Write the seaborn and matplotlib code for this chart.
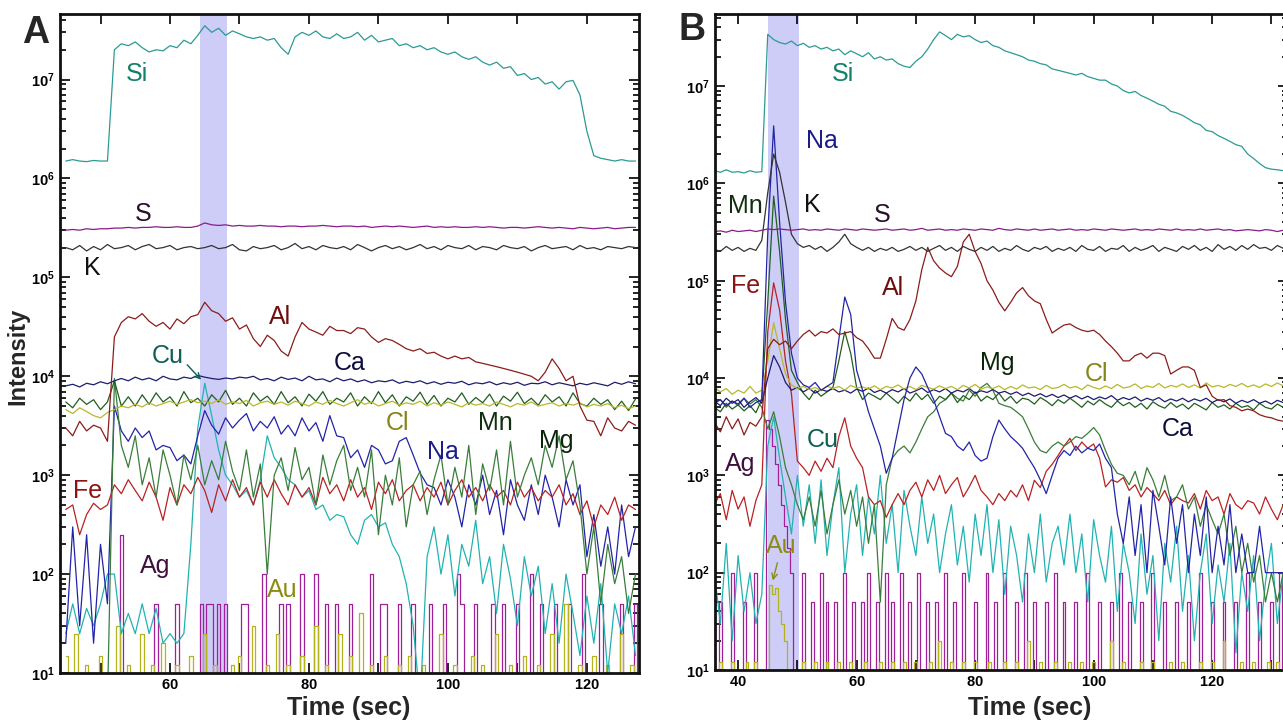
import numpy as np
import matplotlib
matplotlib.use("Agg")
import matplotlib.pyplot as plt
import seaborn as sns
from matplotlib.ticker import FixedLocator, FuncFormatter, NullFormatter

# ---------------- panel A: t = 45 .. 127 s (1 s steps) ----------------
t0_a = 45
si_a = [1.5, 1.55, 1.5, 1.48, 1.52, 1.5, 1.5, 20, 23, 22,
        24, 21, 19, 20, 19.5, 22, 21, 25, 23, 28,
        35, 30, 33, 28, 31, 29, 27, 26, 27, 25,
        26, 21, 18, 27, 30, 28, 31, 27, 26, 29,
        26, 27, 30, 25, 28, 24, 25, 26, 22, 23,
        21, 22, 20, 21, 19, 18, 19, 17, 16, 17,
        15, 14, 15, 13, 13.5, 11, 11.5, 10, 10.5, 9,
        9.5, 8, 9.5, 9.8, 7, 3, 1.7, 1.6, 1.55, 1.5,
        1.55, 1.5, 1.5]                                   # x1e6
s_a = [3.0, 3.05, 3.0, 3.1, 3.05, 3.1, 3.1, 3.15, 3.15, 3.2,
       3.15, 3.2, 3.2, 3.25, 3.2, 3.2, 3.25, 3.2, 3.2, 3.3,
       3.55, 3.4, 3.35, 3.4, 3.3, 3.35, 3.3, 3.3, 3.35, 3.3,
       3.3, 3.25, 3.3, 3.3, 3.25, 3.3, 3.3, 3.35, 3.3, 3.25,
       3.3, 3.3, 3.25, 3.3, 3.2, 3.25, 3.3, 3.25, 3.3, 3.25,
       3.2, 3.25, 3.3, 3.2, 3.25, 3.2, 3.25, 3.2, 3.2, 3.25,
       3.2, 3.25, 3.2, 3.15, 3.2, 3.2, 3.15, 3.2, 3.25, 3.2,
       3.15, 3.2, 3.15, 3.1, 3.2, 3.15, 3.1, 3.15, 3.2, 3.1,
       3.15, 3.2, 3.2]                                    # x1e5
k_a = [2.0, 1.9, 2.1, 1.85, 2.05, 1.9, 2.15, 1.95, 2.0, 2.1,
       1.9, 2.05, 2.15, 1.95, 2.0, 2.1, 1.9, 2.0, 2.05, 1.95,
       2.0, 2.1, 1.95, 2.0, 2.15, 1.9, 1.85, 2.05, 1.95, 2.0,
       2.1, 1.9, 2.0, 2.2, 1.95, 2.05, 1.9, 2.1, 2.0, 1.95,
       2.05, 1.9, 2.15, 2.0, 1.85, 2.0, 2.1, 1.95, 2.05, 1.9,
       2.0, 2.15, 1.95, 2.05, 1.9, 2.1, 2.0, 1.95, 2.1, 1.9,
       2.05, 2.0, 1.9, 2.1, 2.0, 1.95, 2.05, 1.85, 2.0, 2.1,
       1.95, 2.0, 2.05, 1.9, 2.1, 1.95, 2.0, 1.9, 2.05, 2.0,
       1.95, 2.05, 2.0]                                   # x1e5
al_a = [3.0, 2.5, 3.5, 2.8, 3.2, 3.0, 2.2, 25, 35, 40,
        38, 43, 36, 32, 35, 30, 38, 34, 40, 42,
        56, 46, 43, 36, 39, 30, 33, 24, 20, 26,
        23, 18, 16, 25, 35, 30, 28, 26, 32, 29,
        29, 27, 31, 30, 25, 22, 24, 23, 21, 19,
        18, 19, 17, 17.5, 16, 15, 16, 15, 15.5, 14,
        13.5, 13, 12.5, 12, 11.5, 11, 10.5, 10, 9, 11,
        15, 12, 9, 10, 5, 3.6, 3.5, 2.5, 3.8, 3.0,
        2.8, 3.5, 3.2]                                    # x1e3
ca_a = [8.0, 8.3, 7.8, 8.5, 8.2, 8.8, 8.4, 9.0, 9.5, 9.0,
        9.8, 9.2, 9.6, 9.0, 10.0, 9.4, 9.2, 9.8, 9.5, 10.2,
        9.8, 9.5, 9.3, 9.6, 9.4, 9.8, 9.6, 10.0, 9.2, 9.5,
        9.0, 9.8, 9.3, 9.6, 9.0, 10.0, 9.2, 9.4, 8.8, 9.6,
        9.0, 9.4, 8.8, 9.2, 8.6, 9.0, 8.8, 9.2, 8.5, 8.9,
        8.6, 9.0, 8.4, 8.8, 8.3, 8.7, 8.5, 8.9, 8.2, 8.6,
        8.4, 8.8, 8.2, 8.6, 8.3, 8.7, 8.1, 8.5, 8.4, 8.8,
        8.2, 8.6, 8.3, 8.0, 8.5, 8.2, 8.6, 8.3, 8.0, 8.7,
        8.3, 8.8, 8.4]                                    # x1e3
cl_a = [4.6, 4.2, 4.8, 4.4, 4.0, 3.8, 4.3, 4.6, 5.0, 4.8,
        5.2, 4.9, 5.4, 5.0, 5.3, 5.6, 5.2, 5.5, 5.8, 5.4,
        5.6, 5.3, 5.8, 5.2, 5.5, 5.3, 5.7, 5.0, 5.4, 5.6,
        5.2, 5.5, 5.1, 5.6, 5.3, 5.0, 5.5, 5.2, 5.7, 5.3,
        5.0, 5.4, 5.8, 5.2, 5.5, 5.0, 5.3, 5.6, 5.1, 5.4,
        5.2, 5.6, 5.0, 5.4, 5.1, 5.5, 5.2, 4.9, 5.4, 5.1,
        5.3, 5.0, 5.5, 5.2, 4.9, 5.3, 5.1, 5.5, 5.0, 5.2,
        5.4, 5.0, 5.3, 5.1, 5.4, 4.9, 5.2, 5.0, 5.3, 4.8,
        5.1, 4.7, 5.0]                                    # x1e3
mn_a = [5.5, 4.8, 6.0, 5.2, 5.8, 4.6, 5.5, 9.0, 5.0, 6.2,
        5.0, 6.5, 5.2, 6.8, 5.5, 6.2, 5.0, 7.0, 5.4, 6.0,
        5.0, 6.5, 5.5, 7.2, 5.2, 6.0, 5.0, 6.8, 5.6, 6.3,
        5.2, 7.0, 5.4, 6.2, 5.0, 6.6, 5.6, 7.0, 5.2, 6.0,
        5.5, 6.8, 5.0, 6.2, 5.3, 7.0, 5.4, 6.5, 5.0, 6.2,
        5.6, 6.9, 5.2, 6.4, 5.0, 6.0, 5.5, 6.8, 5.2, 6.1,
        5.4, 6.6, 5.0, 6.3, 5.6, 6.9, 5.3, 6.0, 5.1, 6.5,
        5.5, 6.2, 5.0, 6.8, 5.3, 5.0, 6.0, 5.2, 5.8, 4.6,
        5.6, 4.5, 5.9]                                    # x1e3
mg_a = [0.005, 0.005, 0.005, 0.005, 0.005, 0.005, 0.005, 9.5, 2.0, 1.2,
        2.5, 0.8, 1.5, 0.6, 1.8, 1.0, 0.5, 1.6, 0.9, 2.0,
        0.8, 1.4, 0.9, 2.2, 1.1, 0.7, 1.8, 0.6, 1.3, 0.1,
        1.0, 1.5, 0.7, 1.9, 0.9, 1.2, 0.5, 1.6, 0.8, 1.4,
        2.0, 0.7, 1.2, 0.6, 1.8, 0.25, 1.0, 0.5, 1.5, 0.3,
        0.8, 1.1, 0.4, 0.9, 1.6, 0.5, 1.2, 0.6, 2.0, 0.4,
        1.3, 0.7, 1.8, 0.5, 2.2, 0.6, 1.0, 1.5, 0.8, 2.0,
        1.2, 2.5, 0.9, 1.4, 0.5, 0.1, 0.3, 0.05, 0.2, 0.08,
        0.15, 0.04, 0.1]                                  # x1e3
na_a = [0.02, 0.3, 0.03, 0.25, 0.02, 0.2, 0.05, 5.0, 2.8, 2.2,
        3.0, 2.4, 2.8, 1.8, 2.0, 1.9, 1.4, 1.6, 1.3, 2.5,
        4.5, 3.2, 2.6, 3.8, 3.0, 3.6, 4.2, 2.8, 3.5, 3.0,
        3.9, 2.6, 3.2, 2.5, 3.8, 2.8, 3.4, 2.2, 4.0, 2.5,
        2.4, 1.5, 1.8, 1.2, 2.0, 1.8, 1.3, 1.4, 2.2, 2.4,
        1.6, 1.05, 0.8, 0.75, 0.5, 0.9, 0.6, 0.3, 0.8, 0.5,
        1.0, 0.4, 0.7, 0.25, 0.9, 0.5, 0.35, 0.8, 0.4, 1.0,
        0.6, 0.3, 0.9, 0.5, 0.8, 0.15, 0.4, 0.12, 0.3, 0.1,
        0.5, 0.15, 0.3]                                   # x1e3
fe_a = [4.5, 5.0, 2.5, 4.0, 5.2, 4.5, 5.0, 8.0, 6.5, 9.0,
        7.0, 5.5, 8.5, 6.0, 3.5, 7.5, 5.0, 8.0, 6.5, 9.5,
        7.0, 4.2, 8.0, 5.5, 9.0, 6.0, 7.5, 5.0, 8.5, 6.0,
        9.0, 6.5, 5.0, 8.0, 6.0, 7.5, 5.0, 9.5, 6.5, 8.0,
        5.5, 9.0, 6.0, 7.5, 4.5, 8.5, 6.5, 9.0, 5.5, 7.0,
        8.0, 5.5, 7.5, 6.0, 8.5, 5.0, 7.0, 9.0, 6.0, 7.5,
        5.5, 8.0, 6.0, 7.0, 5.0, 8.5, 6.0, 7.5, 5.5, 7.0,
        6.0, 8.0, 5.0, 6.5, 4.0, 5.5, 3.0, 5.0, 4.0, 6.0,
        3.5, 5.0, 4.5]                                    # x1e2
cu_a = [25, 50, 25, 45, 30, 50, 100, 100, 25, 40,
        25, 50, 25, 45, 20, 25, 20, 25, 200, 3000,
        8500, 4000, 1800, 1000, 800, 600, 700, 500, 900, 2500,
        1500, 1200, 900, 800, 600, 700, 450, 500, 350, 400,
        380, 250, 200, 350, 400, 300, 330, 200, 150, 80,
        30, 5, 150, 300, 100, 250, 60, 200, 120, 350,
        80, 150, 40, 200, 90, 30, 150, 60, 120, 25,
        80, 20, 100, 40, 15, 60, 20, 80, 10, 50,
        25, 60, 15]
# count bursts (time s, counts), 0.5 s bins
ag_a = [(53, 250), (58, 50), (61, 50), (64.5, 50), (65.5, 50), (66, 50),
        (67, 50), (68, 50), (70.5, 50), (71, 50), (73.5, 100), (76, 50),
        (77, 50), (79, 100), (81, 100), (82.5, 50), (84, 50), (86, 50),
        (89, 100), (90.5, 50), (91, 50), (93, 50), (95, 50), (97.5, 50),
        (99.5, 50), (101.5, 100), (102, 50), (104, 50), (106.5, 50), (108, 50),
        (110, 50), (112, 100), (113.5, 50), (115.5, 50), (117.5, 50),
        (119.5, 100), (122, 50), (125, 50), (127, 50)]
au_a = [(45, 15), (46.5, 25), (48, 12), (50, 15), (52.5, 30), (54, 12),
        (56, 25), (57.5, 12), (59, 20), (61, 12), (63, 15), (65, 25),
        (66.5, 12), (69, 12), (70, 15), (72, 30), (74, 12), (75.5, 25),
        (77, 12), (79, 15), (81, 30), (82.5, 12), (84.5, 25), (86, 15),
        (87.5, 40), (89, 12), (91, 15), (93, 12), (94.5, 15), (96.5, 12),
        (99, 25), (101, 12), (103.5, 15), (105, 12), (107, 25), (109, 12),
        (111, 15), (113, 12), (115, 25), (117, 50), (119, 12), (121, 15),
        (123, 12), (125, 25), (126.5, 12)]

# ---------------- panel B: t = 36 .. 132 s (1 s steps) ----------------
t0_b = 36
si_b = [1.35, 1.3, 1.38, 1.3, 1.32, 1.28, 1.35, 1.3, 1.32, 34,
        30, 28, 27, 29, 26, 27.5, 25, 26, 24, 25,
        23, 24, 21, 23, 21.5, 20, 22, 19, 20, 18.5,
        19, 17, 16, 15.5, 18, 20, 24, 30, 36, 33,
        30, 34, 32, 33, 30, 28, 29, 26, 25, 23,
        22, 21, 20, 18.5, 18, 17, 16.5, 15, 14.5, 14,
        13.5, 13, 13.5, 12.5, 12, 11.5, 11.5, 10.5, 10, 9,
        8.5, 8.8, 8, 7.5, 7, 6.5, 6.2, 5.5, 5.3, 5.0,
        4.6, 4.2, 4.0, 3.5, 3.4, 3.1, 2.9, 2.7, 2.5, 2.4,
        2.0, 1.8, 1.6, 1.45, 1.4, 1.38, 1.35]             # x1e6
s_b = [3.2, 3.25, 3.15, 3.3, 3.2, 3.25, 3.3, 3.2, 3.3, 3.4,
       3.35, 3.4, 3.35, 3.3, 3.35, 3.4, 3.3, 3.35, 3.3, 3.4,
       3.35, 3.3, 3.4, 3.35, 3.3, 3.4, 3.35, 3.3, 3.35, 3.4,
       3.3, 3.35, 3.4, 3.3, 3.35, 3.45, 3.3, 3.35, 3.4, 3.3,
       3.35, 3.3, 3.4, 3.35, 3.3, 3.4, 3.35, 3.3, 3.45, 3.35,
       3.3, 3.4, 3.35, 3.3, 3.4, 3.3, 3.35, 3.4, 3.3, 3.35,
       3.4, 3.3, 3.35, 3.3, 3.4, 3.35, 3.3, 3.4, 3.35, 3.3,
       3.35, 3.4, 3.3, 3.35, 3.3, 3.4, 3.35, 3.3, 3.4, 3.3,
       3.35, 3.3, 3.4, 3.3, 3.35, 3.4, 3.3, 3.35, 3.25, 3.3,
       3.35, 3.3, 3.25, 3.35, 3.3, 3.2, 3.3]              # x1e5
k_b = [2.1, 2.0, 2.25, 2.05, 2.2, 2.0, 2.15, 2.05, 2.6, 8.0,
       20, 13, 6.4, 3.0, 2.4, 2.2, 2.3, 2.1, 2.25, 2.0,
       2.2, 2.5, 3.0, 2.4, 2.2, 2.05, 2.2, 2.0, 2.15, 2.05,
       2.2, 2.0, 2.1, 2.25, 2.05, 2.2, 2.0, 2.15, 2.3, 2.05,
       2.2, 2.0, 2.25, 2.1, 2.0, 2.2, 2.05, 2.25, 2.0, 2.15,
       2.05, 2.3, 2.1, 2.0, 2.2, 2.1, 2.25, 2.0, 2.15, 2.05,
       2.2, 2.0, 2.3, 2.1, 2.05, 2.25, 2.0, 2.15, 2.1, 2.3,
       2.0, 2.2, 2.05, 2.15, 2.3, 2.0, 2.2, 2.1, 2.0, 2.25,
       2.1, 2.3, 2.05, 2.2, 2.0, 2.35, 2.1, 2.25, 2.05, 2.3,
       2.1, 2.35, 2.15, 2.2, 2.05, 2.3, 2.15]             # x1e5
al_b = [3.5, 2.8, 4.0, 3.0, 3.8, 2.6, 3.5, 3.2, 4.0, 20,
        25, 22, 24, 20, 24, 28, 31, 27, 30, 29,
        32, 28, 29, 30, 26, 24, 20, 16, 16, 25,
        41, 33, 31, 40, 62, 130, 220, 160, 135, 120,
        110, 140, 250, 300, 200, 150, 100, 80, 60, 49,
        60, 75, 85, 70, 62, 58, 40, 29, 32, 35,
        36, 33, 31, 30, 31, 28, 24, 21, 18, 15,
        15, 17, 18, 16, 18, 18, 17, 11, 12, 13,
        13, 12, 8, 8.5, 6.5, 5.9, 6.0, 5.2, 5.0, 4.6,
        4.8, 4.6, 4.2, 4.0, 3.9, 3.7, 3.6]                # x1e3
ca_b = [5.8, 5.2, 6.2, 5.5, 6.0, 5.0, 5.7, 6.3, 5.5, 10,
        17, 13, 9.0, 7.5, 8.0, 7.2, 7.8, 7.0, 7.6, 7.3,
        7.8, 7.2, 7.5, 7.0, 7.7, 7.3, 7.9, 7.1, 7.5, 7.0,
        7.6, 7.2, 7.8, 7.0, 7.4, 7.9, 7.1, 7.6, 7.2, 7.8,
        7.0, 7.5, 7.2, 7.8, 7.0, 7.4, 7.1, 7.6, 7.0, 7.3,
        6.8, 7.2, 6.6, 7.0, 6.5, 6.9, 6.4, 6.8, 6.3, 6.7,
        6.2, 6.6, 6.1, 6.5, 6.0, 6.4, 6.1, 6.6, 5.9, 6.3,
        6.0, 6.4, 5.8, 6.2, 5.9, 6.3, 5.7, 6.1, 5.8, 6.2,
        5.7, 6.1, 5.8, 6.2, 5.6, 6.0, 5.7, 6.1, 5.5, 5.9,
        5.6, 6.0, 5.5, 5.8, 5.4, 5.9, 5.6]                # x1e3
cl_b = [8.0, 7.2, 7.8, 6.8, 7.5, 7.0, 8.2, 7.0, 7.5, 15,
        37, 20, 11, 8.5, 7.8, 8.2, 7.6, 8.0, 7.4, 8.3,
        7.8, 8.2, 7.5, 8.4, 7.9, 8.1, 7.7, 8.3, 7.6, 8.2,
        7.9, 8.5, 7.7, 8.2, 7.6, 8.4, 8.0, 7.7, 8.3, 7.8,
        8.2, 7.6, 8.4, 7.9, 8.6, 7.7, 8.1, 7.8, 8.3, 7.6,
        8.2, 7.7, 8.5, 7.9, 8.1, 7.6, 8.4, 7.8, 8.0, 8.6,
        7.9, 8.2, 7.6, 8.5, 8.0, 7.7, 8.3, 7.8, 8.6, 7.9,
        8.1, 8.7, 7.8, 8.3, 8.0, 8.8, 7.9, 8.4, 8.1, 8.7,
        8.0, 8.5, 7.9, 8.9, 8.1, 8.4, 8.0, 8.6, 8.2, 8.8,
        8.1, 8.5, 8.0, 8.7, 8.2, 8.9, 8.3]                # x1e3
mn_b = [5.0, 4.5, 5.5, 4.8, 5.3, 4.6, 5.2, 4.4, 6.0, 60,
        740, 200, 40, 12, 9.0, 7.0, 6.0, 7.5, 6.5, 7.2,
        8.0, 15, 30, 18, 8.0, 6.0, 7.0, 6.5, 6.0, 7.0,
        6.2, 5.5, 6.5, 5.8, 7.0, 6.0, 6.8, 5.5, 6.5, 6.0,
        7.0, 5.6, 6.6, 6.0, 7.2, 5.8, 6.5, 6.0, 7.0, 5.8,
        6.5, 5.5, 6.2, 6.0, 5.4, 6.3, 5.8, 5.2, 6.0, 5.5,
        6.2, 5.6, 5.0, 5.8, 5.3, 6.0, 5.4, 5.0, 5.8, 5.2,
        5.6, 5.0, 5.5, 4.8, 5.7, 5.2, 4.9, 5.6, 5.0, 5.4,
        4.8, 5.5, 5.1, 4.7, 5.6, 5.0, 5.3, 4.8, 5.5, 5.0,
        5.2, 4.7, 5.5, 5.0, 4.8, 5.4, 5.0]                # x1e3
mg_b = [5.5, 6.0, 5.0, 5.8, 5.2, 6.2, 5.4, 6.0, 5.0, 3.0,
        4.5, 2.5, 1.2, 0.8, 0.5, 0.35, 0.6, 0.3, 0.7, 0.25,
        0.5, 0.9, 0.4, 0.7, 0.3, 0.6, 0.2, 0.5, 0.05, 0.8,
        1.5, 1.8, 2.0, 1.7, 2.2, 3.0, 4.0, 4.5, 5.5, 6.0,
        7.0, 6.2, 5.8, 7.5, 6.5, 8.0, 8.8, 7.5, 5.5, 5.2,
        5.0, 4.5, 4.0, 3.0, 2.2, 1.8, 1.7, 2.0, 2.2, 2.0,
        2.2, 2.5, 2.4, 2.7, 3.1, 2.6, 1.8, 1.3, 1.05, 1.0,
        0.8, 1.1, 0.7, 1.2, 0.9, 0.6, 1.0, 0.55, 0.6, 0.8,
        0.45, 0.6, 0.3, 0.5, 0.35, 0.25, 0.4, 0.15, 0.3, 0.1,
        0.2, 0.08, 0.15, 0.05, 0.1, 0.05, 0.1]            # x1e3
na_b = [5.5, 6.0, 5.2, 5.8, 5.4, 6.2, 5.0, 5.6, 6.0, 300,
        3900, 400, 60, 18, 10, 8.5, 8.0, 9.0, 7.5, 8.2,
        9.0, 25, 68, 45, 12, 7.5, 4.5, 3.0, 2.0, 1.05,
        1.5, 3.0, 6.0, 10, 13, 11, 8.0, 6.0, 4.0, 2.7,
        2.5, 2.0, 1.8, 2.2, 1.6, 1.4, 1.5, 2.5, 3.7, 3.0,
        2.5, 2.2, 1.9, 1.5, 1.2, 0.9, 0.65, 1.0, 1.5, 1.8,
        1.6, 2.0, 1.7, 1.9, 1.8, 2.1, 1.5, 1.2, 0.4, 0.2,
        0.6, 0.15, 0.5, 0.1, 0.7, 0.3, 0.12, 0.6, 0.2, 0.5,
        0.1, 0.4, 0.15, 0.6, 0.1, 0.3, 0.12, 0.5, 0.1, 0.25,
        0.1, 0.1, 0.3, 0.1, 0.1, 0.1, 0.1]                # x1e3
fe_b = [5.0, 6.5, 3.5, 7.0, 4.5, 6.0, 3.0, 5.5, 8.0, 300,
        950, 500, 150, 69, 14, 12, 10, 14, 11, 15,
        12, 25, 39, 20, 15, 12, 6.0, 5.0, 5.5, 3.7,
        5.0, 6.5, 5.0, 7.0, 8.5, 6.0, 9.0, 7.0, 10, 6.5,
        8.0, 9.5, 6.0, 7.6, 10, 7.0, 6.0, 5.0, 6.5, 5.5,
        7.0, 6.0, 8.0, 5.5, 8.9, 7.5, 11, 13, 16, 20,
        24, 18, 22, 19, 21, 15, 7.6, 9.0, 8.5, 9.5,
        7.0, 8.0, 6.0, 7.5, 6.5, 5.5, 7.0, 5.0, 6.0, 5.5,
        5.2, 6.5, 4.5, 7.0, 5.5, 6.0, 4.0, 6.5, 5.0, 4.5,
        5.5, 5.2, 4.0, 6.0, 4.5, 3.5, 5.0]                # x1e2
cu_b = [100, 30, 200, 20, 150, 40, 100, 30, 60, 2000,
        4000, 1500, 600, 250, 1000, 300, 800, 200, 900, 150,
        500, 1200, 100, 400, 800, 150, 600, 250, 1000, 200,
        500, 100, 700, 300, 150, 600, 200, 400, 100, 250,
        500, 120, 300, 80, 400, 150, 500, 100, 350, 60,
        300, 150, 50, 250, 100, 400, 80, 200, 300, 120,
        400, 100, 250, 50, 350, 150, 80, 300, 40, 200,
        100, 30, 250, 60, 150, 20, 200, 80, 300, 40,
        150, 20, 100, 250, 30, 120, 50, 200, 15, 100,
        40, 150, 20, 80, 200, 30, 100]
ag_b = [(37, 50), (39, 100), (41, 50), (43, 100), (45, 3700), (45.5, 3000),
        (46, 2000), (46.5, 1300), (47, 800), (47.5, 500), (48, 300),
        (48.5, 180), (49, 100), (51, 100), (52.5, 50), (54, 100), (55, 50),
        (56.5, 50), (58, 100), (59.5, 50), (61, 50), (62, 100), (63.5, 50),
        (65, 100), (66, 50), (67.5, 100), (69, 50), (70.5, 100), (72, 50),
        (73.5, 50), (75, 100), (76.5, 50), (78, 100), (80, 50), (82, 100),
        (83.5, 50), (85, 100), (87, 50), (88.5, 100), (90, 50), (92, 50),
        (93.5, 100), (95, 50), (97, 50), (99, 100), (101, 50), (103, 50),
        (104.5, 100), (106, 50), (108, 50), (110, 100), (112, 50), (114, 50),
        (116, 50), (118, 100), (120, 50), (122, 50), (124, 50), (126, 100),
        (128, 50), (130, 50), (131.5, 100)]
au_b = [(37, 12), (39, 12), (41.5, 12), (43, 12), (45.5, 75), (46, 60),
        (46.5, 70), (47, 40), (47.5, 30), (48, 20), (51, 12), (53, 12),
        (55, 12), (57, 12), (59, 12), (61.5, 12), (64, 12), (66, 12), (68, 12),
        (70, 12), (72.5, 12), (74, 20), (76, 12), (78, 12), (80, 12),
        (82.5, 12), (85, 12), (87, 12), (89, 20), (91, 12), (93.5, 12),
        (96, 12), (98, 12), (100, 12), (103, 20), (105, 12), (108, 12),
        (110, 12), (113, 12), (115, 12), (118, 12), (120, 12), (122, 20),
        (125, 12), (127, 12), (129.5, 12), (131, 12)]

line_col = {'Si': '#2b9a94', 'S': '#8b1a8b', 'K': '#333333', 'Al': '#8b1c1c',
            'Ca': '#1c1c6e', 'Cu': '#22b2b2', 'Cl': '#b8b82a', 'Mn': '#1f5f1f',
            'Mg': '#3a7d3a', 'Na': '#2323a8', 'Fe': '#b82222', 'Ag': '#a0209a',
            'Au': '#b3b31e'}
text_col = {'Si': '#13806a', 'S': '#2a0f2a', 'K': '#111111', 'Al': '#6e0d0d',
            'Ca': '#0e0e3c', 'Cu': '#0f5f57', 'Cl': '#85851a', 'Mn': '#0f2f0f',
            'Mg': '#0a250a', 'Na': '#1c1c8c', 'Fe': '#8b1414', 'Ag': '#3e0f3e',
            'Au': '#8c8c14'}

series_a = [('Cu', cu_a, 1), ('Na', na_a, 1e3), ('Fe', fe_a, 1e2), ('Mg', mg_a, 1e3),
            ('Mn', mn_a, 1e3), ('Cl', cl_a, 1e3), ('Ca', ca_a, 1e3), ('Al', al_a, 1e3),
            ('K', k_a, 1e5), ('S', s_a, 1e5), ('Si', si_a, 1e6)]
series_b = [('Cu', cu_b, 1), ('Fe', fe_b, 1e2), ('Mg', mg_b, 1e3), ('Mn', mn_b, 1e3),
            ('Ca', ca_b, 1e3), ('Cl', cl_b, 1e3), ('Na', na_b, 1e3), ('Al', al_b, 1e3),
            ('K', k_b, 1e5), ('S', s_b, 1e5), ('Si', si_b, 1e6)]

sns.set_style("ticks")
plt.rcParams['font.family'] = ['Liberation Sans', 'DejaVu Sans']
plt.rcParams['mathtext.fontset'] = 'custom'
plt.rcParams['mathtext.rm'] = 'Liberation Sans'
plt.rcParams['mathtext.bf'] = 'Liberation Sans:bold'

fig = plt.figure(figsize=(12.83, 7.22), dpi=100)
ax_a = fig.add_axes([60 / 1283, 1 - 673 / 722, 579 / 1283, 659 / 722])
ax_b = fig.add_axes([715 / 1283, 1 - 670 / 722, 573 / 1283, 656 / 722])


def draw_counts(ax, pairs, name, t_lo, t_hi):
    # sparse count bursts on a 0.5 s grid, empty bins sit below the axis
    grid = np.arange(t_lo, t_hi + 0.25, 0.5)
    v = np.ones(len(grid))
    for tt, h in pairs:
        v[int(round((tt - t_lo) * 2))] = h
    sns.lineplot(x=grid, y=v, ax=ax, color=line_col[name], lw=0.9,
                 estimator=None, drawstyle='steps-mid')


def draw(ax, series, t0):
    for name, vals, scale in series:
        v = np.array(vals, dtype=float) * scale
        t = t0 + np.arange(len(v))
        sns.lineplot(x=t, y=v, ax=ax, color=line_col[name], lw=0.9, estimator=None)


def style(ax, ticks, ytop):
    ax.set_yscale('log')
    ax.xaxis.set_major_locator(FixedLocator(ticks))
    ax.xaxis.set_major_formatter(FuncFormatter(
        lambda v, p: r'$\mathbf{%d}$' % v if round(v) % 20 == 0 else ''))
    ax.yaxis.set_major_locator(FixedLocator([10.0 ** e for e in range(1, 8)]))
    minors = [m * 10.0 ** e for e in range(1, 8) for m in range(2, 10)
              if m * 10.0 ** e < ytop]
    ax.yaxis.set_minor_locator(FixedLocator(minors))
    ax.yaxis.set_minor_formatter(NullFormatter())
    ax.yaxis.set_major_formatter(FuncFormatter(
        lambda v, p: r'$\mathbf{10^{%d}}$' % round(np.log10(v))))
    ax.tick_params(which='both', direction='in', top=True, right=True,
                   width=1.2, labelsize=10.5, colors='black')
    ax.tick_params(which='major', length=7)
    ax.tick_params(which='minor', length=4)
    for sp in ax.spines.values():
        sp.set_linewidth(2)
        sp.set_color('#111111')
    ax.set_xlabel('')
    ax.set_ylabel('')


draw_counts(ax_a, ag_a, 'Ag', 45, 127.5)
draw_counts(ax_a, au_a, 'Au', 45, 127.5)
draw(ax_a, series_a, t0_a)
ax_a.axvspan(64.3, 68.2, color='#cdcdf7', zorder=0, lw=0)
style(ax_a, list(range(50, 130, 10)), 4.6e7)
ax_a.set_xlim(44.17, 127.5)
ax_a.set_ylim(10, 4.6e7)

draw_counts(ax_b, ag_b, 'Ag', 36, 133)
draw_counts(ax_b, au_b, 'Au', 36, 133)
draw(ax_b, series_b, t0_b)
ax_b.axvspan(45.0, 50.3, color='#cdcdf7', zorder=0, lw=0)
style(ax_b, list(range(40, 140, 10)), 5.5e7)
ax_b.set_xlim(36.1, 132.8)
ax_b.set_ylim(10, 5.5e7)

labels_a = [('Si', 55.3, 1.15e7), ('S', 56.1, 4.4e5), ('K', 48.8, 1.23e5),
            ('Al', 75.9, 3.96e4), ('Cu', 59.7, 1.6e4), ('Ca', 85.9, 1.35e4),
            ('Cl', 92.8, 3.4e3), ('Mn', 106.8, 3.4e3), ('Na', 99.3, 1.7e3),
            ('Mg', 115.6, 2.2e3), ('Fe', 48.2, 700), ('Ag', 57.9, 120),
            ('Au', 76.1, 69)]
labels_b = [('Si', 57.7, 1.32e7), ('Na', 54.2, 2.7e6), ('Mn', 41.2, 5.9e5),
            ('K', 52.5, 6.0e5), ('S', 64.3, 4.7e5), ('Fe', 41.2, 8.9e4),
            ('Al', 66.1, 8.5e4), ('Mg', 83.7, 1.44e4), ('Cl', 100.5, 1.1e4),
            ('Ca', 114.2, 3.0e3), ('Ag', 40.3, 1.3e3), ('Cu', 54.3, 2.3e3),
            ('Au', 47.3, 190)]
for ax, labs in ((ax_a, labels_a), (ax_b, labels_b)):
    for name, x, y in labs:
        ax.text(x, y, name, color=text_col[name], fontsize=18,
                ha='center', va='center', zorder=5)

ax_a.annotate('', xy=(64.75, 8.8e3), xytext=(62.2, 1.37e4),
              arrowprops=dict(arrowstyle='->', color=text_col['Cu'], lw=1))
ax_b.annotate('', xy=(45.74, 78), xytext=(46.75, 135),
              arrowprops=dict(arrowstyle='->', color=text_col['Au'], lw=1))

fig.text(36 / 1283, 1 - 33 / 722, 'A', fontsize=27, fontweight='bold',
         ha='center', va='center')
fig.text(692 / 1283, 1 - 30 / 722, 'B', fontsize=27, fontweight='bold',
         ha='center', va='center')
fig.text(18 / 1283, 1 - 356 / 722, 'Intensity', fontsize=17, fontweight='bold',
         rotation=90, ha='center', va='center')
fig.text(349 / 1283, 1 - 708 / 722, 'Time (sec)', fontsize=18, fontweight='bold',
         ha='center', va='center')
fig.text(1030 / 1283, 1 - 708 / 722, 'Time (sec)', fontsize=18, fontweight='bold',
         ha='center', va='center')

fig.savefig('out.png', dpi=100, facecolor='white')
